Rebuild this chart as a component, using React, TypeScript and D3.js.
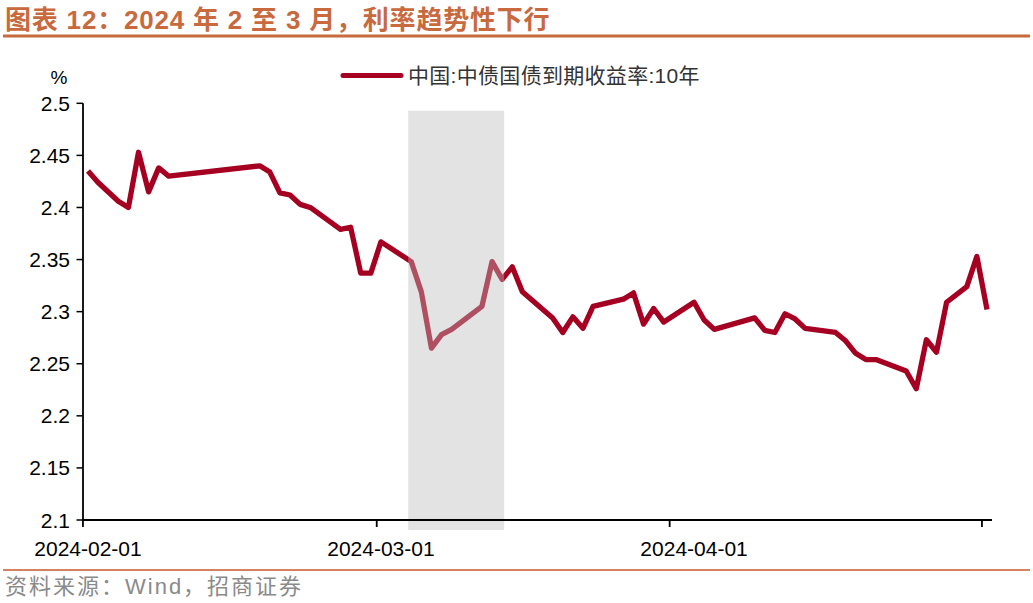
import React from "react";
import * as d3 from "d3";

const dates = ["2024-02-01","2024-02-02","2024-02-04","2024-02-05","2024-02-06","2024-02-07","2024-02-08","2024-02-09","2024-02-18","2024-02-19","2024-02-20","2024-02-21","2024-02-22","2024-02-23","2024-02-26","2024-02-27","2024-02-28","2024-02-29","2024-03-01","2024-03-04","2024-03-05","2024-03-06","2024-03-07","2024-03-08","2024-03-11","2024-03-12","2024-03-13","2024-03-14","2024-03-15","2024-03-18","2024-03-19","2024-03-20","2024-03-21","2024-03-22","2024-03-25","2024-03-26","2024-03-27","2024-03-28","2024-03-29","2024-04-01","2024-04-02","2024-04-03","2024-04-07","2024-04-08","2024-04-09","2024-04-10","2024-04-11","2024-04-12","2024-04-15","2024-04-16","2024-04-17","2024-04-18","2024-04-19","2024-04-22","2024-04-23","2024-04-24","2024-04-25","2024-04-26","2024-04-28","2024-04-29","2024-04-30"];

const yield10y = [2.435,2.424,2.406,2.400,2.453,2.415,2.438,2.430,2.440,2.434,2.414,2.412,2.403,2.400,2.379,2.381,2.337,2.337,
  2.367,2.348,2.319,2.265,2.278,2.283,2.305,2.348,2.331,2.343,2.319,2.294,2.280,2.295,2.284,2.305,2.312,2.318,2.288,2.303,2.290,
  2.309,2.292,2.283,2.294,2.282,2.280,2.298,2.293,2.284,2.280,2.272,2.260,2.254,2.254,2.243,2.226,2.273,2.261,2.309,2.324,2.353,2.302];

const yTicks = [2.1, 2.15, 2.2, 2.25, 2.3, 2.35, 2.4, 2.45, 2.5];
const xLabels = ["2024-02-01", "2024-03-01", "2024-04-01"];
const xTickMarks = ["2024-01-31T12", "2024-02-29T14", "2024-03-29T14", "2024-04-29T12"];
const shadeRange = ["2024-03-04", "2024-03-13"];

const title = "图表 12：2024 年 2 至 3 月，利率趋势性下行";
const seriesName = "中国:中债国债到期收益率:10年";
const source = "资料来源：Wind，招商证券";

export default function App() {
  const W = 1033, H = 603;
  const parse = d3.timeParse("%Y-%m-%d");
  const parseH = d3.timeParse("%Y-%m-%dT%H");
  const x = d3.scaleTime()
    .domain([parse("2024-02-01")!, parse("2024-04-30")!])
    .range([88, 987]);
  const y = d3.scaleLinear().domain([2.1, 2.5]).range([520, 103.3]);
  const pts = dates.map((d, i) => [x(parse(d)!), y(yield10y[i])] as [number, number]);
  const line = d3.line().curve(d3.curveLinear)(pts) || "";

  const axisX0 = 83, axisX1 = 992, axisY = y(2.1);
  const shadeX0 = x(parse(shadeRange[0])!) - 3;
  const shadeX1 = x(parse(shadeRange[1])!) + 2;
  const font = "'Liberation Sans', Arial, 'Noto Sans CJK SC', sans-serif";
  const titleColor = "#C8693E";
  const red = "#A50021";

  return (
    <svg width={W} height={H} style={{ position: "absolute", left: 0, top: 0, background: "#fff" }} fontFamily={font}>
      <rect x={0} y={0} width={W} height={H} fill="#fff" />
      <text x={5} y={29} fontSize={26} fontWeight="bold" fill={titleColor} letterSpacing={0.8}
        fontFamily="'Liberation Sans', 'Noto Sans CJK SC', sans-serif">{title}</text>
      <line x1={3} x2={1030} y1={36} y2={36} stroke={titleColor} strokeWidth={3} />

      {/* legend */}
      <line x1={343} x2={401} y1={75.5} y2={75.5} stroke={red} strokeWidth={5} strokeLinecap="round" />
      <text x={408} y={83} fontSize={21} fill="#333" letterSpacing={0.3}>{seriesName}</text>

      {/* data line */}
      <path d={line} fill="none" stroke={red} strokeWidth={5.3} strokeLinejoin="round" strokeLinecap="butt" />

      {/* shaded period overlay */}
      <rect x={shadeX0} y={y(2.5) + 7.4} width={shadeX1 - shadeX0} height={axisY + 10 - (y(2.5) + 7.4)}
        fill="rgb(189,189,189)" fillOpacity={0.42} />

      {/* axes */}
      <line x1={axisX0} x2={axisX0} y1={y(2.5)} y2={axisY} stroke="#000" strokeWidth={1.8} />
      <line x1={axisX0} x2={axisX1} y1={axisY} y2={axisY} stroke="#000" strokeWidth={1.8} />
      {yTicks.map((t) => (
        <g key={t}>
          <line x1={76.5} x2={axisX0} y1={y(t)} y2={y(t)} stroke="#000" strokeWidth={1.5} />
          <text x={70} y={y(t)} dy="0.36em" fontSize={21} textAnchor="end" fill="#000">{String(t)}</text>
        </g>
      ))}
      <text x={59} y={84} fontSize={19} textAnchor="middle" fill="#000">%</text>
      {xTickMarks.map((t) => (
        <line key={t} x1={x(parseH(t)!)} x2={x(parseH(t)!)} y1={axisY} y2={axisY + 7} stroke="#000" strokeWidth={1.8} />
      ))}
      {xLabels.map((t) => (
        <text key={t} x={x(parse(t)!)} y={556} fontSize={21} textAnchor="middle" fill="#000">{t}</text>
      ))}

      {/* footer */}
      <line x1={3} x2={1030} y1={570} y2={570} stroke="#D3845F" strokeWidth={2} />
      <text x={5} y={594} fontSize={22} fill="#8a8a8a" letterSpacing={2}>{source}</text>
    </svg>
  );
}
